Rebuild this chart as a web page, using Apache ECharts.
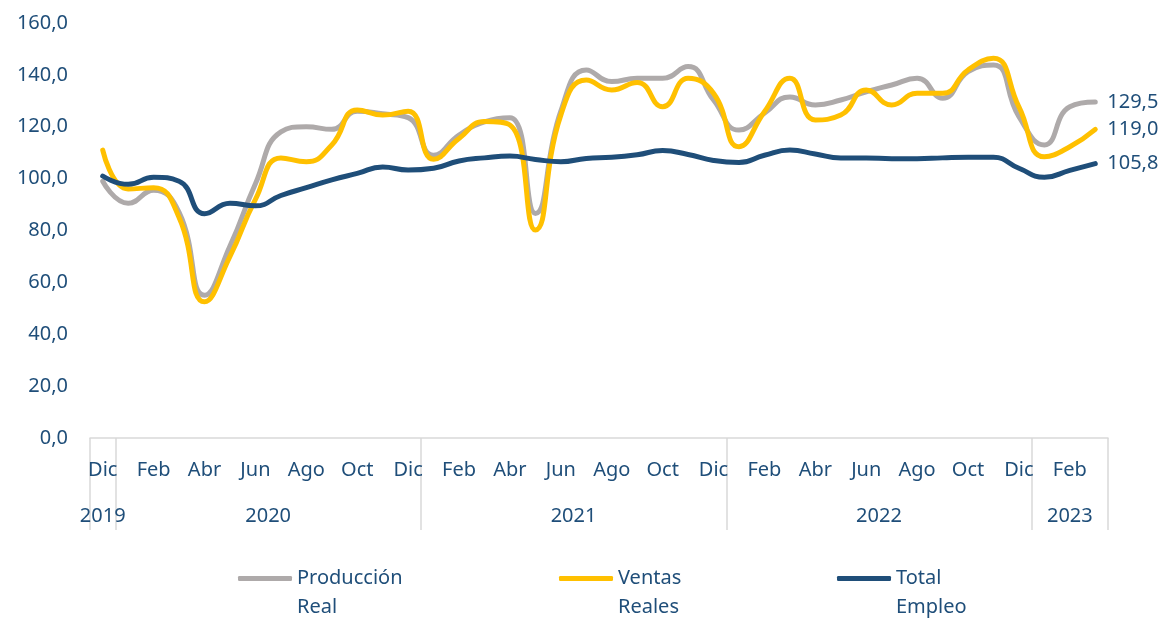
<!DOCTYPE html>
<html>
<head>
<meta charset="utf-8">
<script src="https://cdn.jsdelivr.net/npm/echarts@6/dist/echarts.min.js"></script>
<style>
  html, body { margin: 0; padding: 0; background: #fff; }
  #chart { width: 1166px; height: 618px; }
</style>
</head>
<body>
<div id="chart"></div>
<script>
// meses (Dic 2019 - Mar 2023)
const months = [
    'Dic',
    'Ene', 'Feb', 'Mar', 'Abr', 'May', 'Jun', 'Jul', 'Ago', 'Sep', 'Oct', 'Nov', 'Dic',
    'Ene', 'Feb', 'Mar', 'Abr', 'May', 'Jun', 'Jul', 'Ago', 'Sep', 'Oct', 'Nov', 'Dic',
    'Ene', 'Feb', 'Mar', 'Abr', 'May', 'Jun', 'Jul', 'Ago', 'Sep', 'Oct', 'Nov', 'Dic',
    'Ene', 'Feb', 'Mar'
];
// años y cantidad de meses de cada uno
const yearLabels = ['2019', '2020', '2021', '2022', '2023'];
const yearMonthCounts = [1, 12, 12, 12, 3];

const produccionReal = [
    99.0,
    90.5, 95.5, 87.0, 55.0, 74.0, 98.0, 118.0, 120.0, 119.0, 126.0, 125.0, 123.5,
    109.0, 116.8, 121.9, 123.5, 86.6, 126.0, 141.9, 137.4, 138.7, 138.7, 143.2, 130.3,
    118.7, 125.2, 131.5, 128.4, 130.3, 133.5, 136.1, 138.7, 131.0, 141.2, 143.8, 123.9,
    113.0, 127.7, 129.5
];
const ventasReales = [
    111.0,
    96.0, 96.5, 85.0, 52.5, 70.0, 92.0, 108.0, 106.5, 113.0, 126.5, 124.5, 126.0,
    107.5, 115.5, 122.0, 120.7, 80.2, 124.5, 138.0, 134.2, 137.1, 127.7, 138.7, 132.9,
    112.3, 125.8, 138.7, 122.6, 124.5, 134.2, 128.4, 132.9, 132.9, 141.9, 146.4, 127.7,
    108.4, 112.3, 119.0
];
const totalEmpleo = [
    101.0,
    97.8, 100.5, 99.0, 86.5, 90.5, 89.5, 93.5, 96.5, 99.5, 102.0, 104.5, 103.3,
    104.0, 106.8, 108.0, 108.7, 107.4, 106.5, 107.8, 108.2, 109.2, 110.8, 109.3, 107.0,
    106.2, 109.0, 111.0, 109.5, 108.0, 108.0, 107.7, 107.7, 108.0, 108.2, 108.2, 104.0,
    100.5, 103.2, 105.8
];

const textColor = '#1F4E79';
const fontFamily = 'Noto Sans';
const fontSize = 20;
const fmt = v => Number(v).toFixed(1).replace('.', ',');

// eje de años: medio mes por posición, sin boundaryGap
const yearAxisData = new Array(months.length * 2 + 1).fill('');
const yearBoundaries = [0];
let pos = 0;
yearLabels.forEach((y, i) => {
    yearAxisData[pos + yearMonthCounts[i]] = y;
    pos += yearMonthCounts[i] * 2;
    yearBoundaries.push(pos);
});

const chart = echarts.init(document.getElementById('chart'));

function mkSeries(name, data, color) {
    return {
        name: name,
        type: 'line',
        data: data,
        smooth: 0.5,
        symbol: 'none',
        lineStyle: { width: 5, color: color, cap: 'round' },
        itemStyle: { color: color },
        endLabel: {
            show: true,
            formatter: p => fmt(p.value),
            color: textColor,
            fontSize: fontSize,
            fontFamily: fontFamily,
            distance: 12
        }
    };
}

function mkLegend(name, left) {
    return {
        data: [name],
        left: left,
        top: 530,
        itemWidth: 54,
        itemHeight: 5,
        icon: 'roundRect',
        // línea vacía arriba para que el icono quede a la altura de la primera línea
        formatter: n => '\u00a0\n' + n.replace(' ', '\n'),
        textStyle: {
            color: textColor,
            fontSize: fontSize,
            fontFamily: fontFamily,
            lineHeight: 29
        }
    };
}

const option = {
    animation: false,
    grid: { left: 90, right: 58, top: 23, bottom: 180 },
    legend: [
        mkLegend('Producción Real', 233),
        mkLegend('Ventas Reales', 554),
        mkLegend('Total Empleo', 832)
    ],
    xAxis: [
        {
            type: 'category',
            data: months,
            boundaryGap: true,
            axisLine: { lineStyle: { color: '#D9D9D9', width: 1.5 } },
            axisTick: { show: false },
            axisLabel: {
                interval: 1,
                color: textColor,
                fontSize: fontSize,
                fontFamily: fontFamily,
                margin: 22
            }
        },
        {
            type: 'category',
            position: 'bottom',
            data: yearAxisData,
            boundaryGap: false,
            axisLine: { show: false },
            axisTick: {
                show: true,
                length: 92,
                interval: idx => yearBoundaries.indexOf(idx) >= 0,
                lineStyle: { color: '#D9D9D9', width: 1.5 }
            },
            axisLabel: {
                interval: 0,
                color: textColor,
                fontSize: fontSize,
                fontFamily: fontFamily,
                margin: 68
            }
        }
    ],
    yAxis: {
        type: 'value',
        min: 0,
        max: 160,
        interval: 20,
        axisLine: { show: false },
        axisTick: { show: false },
        splitLine: { show: false },
        axisLabel: {
            formatter: v => fmt(v),
            color: textColor,
            fontSize: fontSize,
            fontFamily: fontFamily,
            margin: 22
        }
    },
    series: [
        mkSeries('Producción Real', produccionReal, '#AEAAAA'),
        mkSeries('Ventas Reales', ventasReales, '#FFC000'),
        mkSeries('Total Empleo', totalEmpleo, '#1F4E79')
    ]
};

chart.setOption(option);
window.addEventListener('resize', function () {
    chart.resize();
});
</script>
</body>
</html>
